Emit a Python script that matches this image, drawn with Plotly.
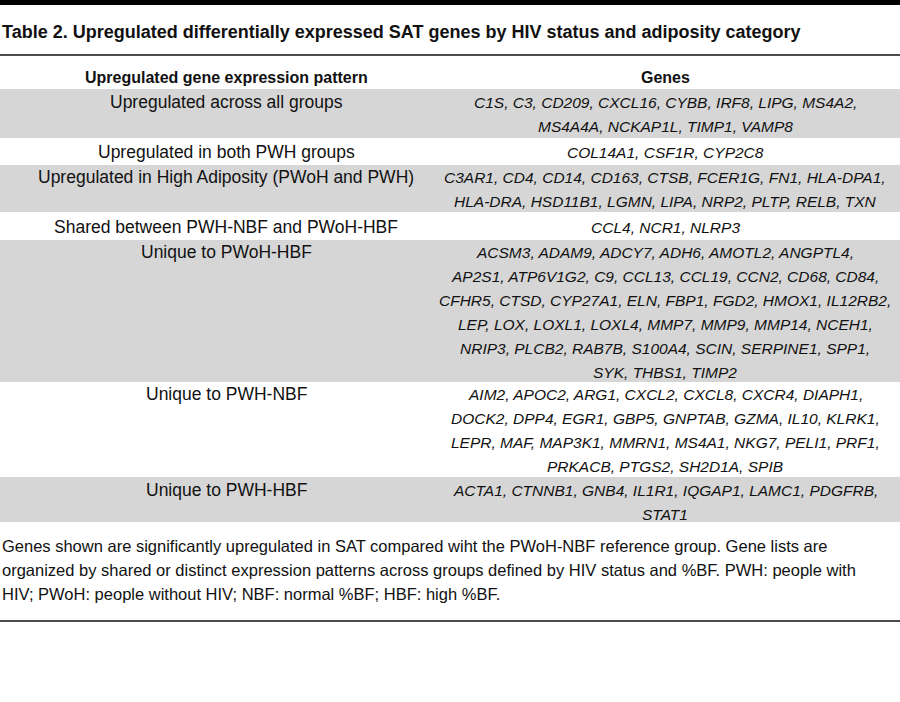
import plotly.graph_objects as go

FONT = "Liberation Sans, Arial"
title = "Table 2. Upregulated differentially expressed SAT genes by HIV status and adiposity category"
headers = ["Upregulated gene expression pattern", "Genes"]
patterns = [
    "Upregulated across all groups",
    "Upregulated in both PWH groups",
    "Upregulated in High Adiposity (PWoH and PWH)",
    "Shared between PWH-NBF and PWoH-HBF",
    "Unique to PWoH-HBF",
    "Unique to PWH-NBF",
    "Unique to PWH-HBF",
]
genes = [
    ["C1S, C3, CD209, CXCL16, CYBB, IRF8, LIPG, MS4A2,", "MS4A4A, NCKAP1L, TIMP1, VAMP8"],
    ["COL14A1, CSF1R, CYP2C8"],
    ["C3AR1, CD4, CD14, CD163, CTSB, FCER1G, FN1, HLA-DPA1,", "HLA-DRA, HSD11B1, LGMN, LIPA, NRP2, PLTP, RELB, TXN"],
    ["CCL4, NCR1, NLRP3"],
    ["ACSM3, ADAM9, ADCY7, ADH6, AMOTL2, ANGPTL4,",
     "AP2S1, ATP6V1G2, C9, CCL13, CCL19, CCN2, CD68, CD84,",
     "CFHR5, CTSD, CYP27A1, ELN, FBP1, FGD2, HMOX1, IL12RB2,",
     "LEP, LOX, LOXL1, LOXL4, MMP7, MMP9, MMP14, NCEH1,",
     "NRIP3, PLCB2, RAB7B, S100A4, SCIN, SERPINE1, SPP1,",
     "SYK, THBS1, TIMP2"],
    ["AIM2, APOC2, ARG1, CXCL2, CXCL8, CXCR4, DIAPH1,",
     "DOCK2, DPP4, EGR1, GBP5, GNPTAB, GZMA, IL10, KLRK1,",
     "LEPR, MAF, MAP3K1, MMRN1, MS4A1, NKG7, PELI1, PRF1,",
     "PRKACB, PTGS2, SH2D1A, SPIB"],
    ["ACTA1, CTNNB1, GNB4, IL1R1, IQGAP1, LAMC1, PDGFRB,", "STAT1"],
]
footnote = [
    "Genes shown are significantly upregulated in SAT compared wiht the PWoH-NBF reference group. Gene lists are",
    "organized by shared or distinct expression patterns across groups defined by HIV status and %BF. PWH: people with",
    "HIV; PWoH: people without HIV; NBF: normal %BF; HBF: high %BF.",
]

# layout (pixel positions of the table rows)
row_top = [89, 140, 165, 214, 240, 384, 477]
row_bot = [138, 163, 212, 238, 382, 474, 522]
text_off = [13, 12, 12, 13, 12, 10, 13]
LH = 24

fig = go.Figure()
shapes, ann = [], []
shapes.append(dict(type="rect", x0=0, x1=900, y0=0, y1=5, fillcolor="black", line_width=0))
ann.append(dict(x=0, y=32, text="<b>" + title + "</b>", xanchor="left", showarrow=False,
                font=dict(size=18, color="#111", family=FONT)))
shapes.append(dict(type="line", x0=0, x1=900, y0=55, y1=55, line=dict(color="#111", width=1.5)))
ann.append(dict(x=226, y=77, text="<b>" + headers[0] + "</b>", showarrow=False, font=dict(size=16, color="#111", family=FONT)))
ann.append(dict(x=665, y=77, text="<b>" + headers[1] + "</b>", showarrow=False, font=dict(size=16, color="#111", family=FONT)))

for i, (p, g) in enumerate(zip(patterns, genes)):
    if i % 2 == 0:
        shapes.append(dict(type="rect", x0=0, x1=900, y0=row_top[i], y1=row_bot[i],
                           fillcolor="#d6d6d6", line_width=0))
    ty = row_top[i] + text_off[i]
    ann.append(dict(x=226, y=ty, text=p, showarrow=False, font=dict(size=17.5, color="#111", family=FONT)))
    for j, line in enumerate(g):
        ann.append(dict(x=665, y=ty + j * LH, text="<i>" + line + "</i>", showarrow=False,
                        font=dict(size=15.5, color="#111", family=FONT)))

for k, line in enumerate(footnote):
    ann.append(dict(x=0, y=546 + k * 24, text=line, xanchor="left", showarrow=False,
                    font=dict(size=16.5, color="#111", family=FONT)))
shapes.append(dict(type="line", x0=0, x1=900, y0=621, y1=621, line=dict(color="#111", width=1.5)))

fig.update_layout(width=900, height=702, margin=dict(l=0, r=0, t=0, b=0),
                  paper_bgcolor="white", plot_bgcolor="white",
                  xaxis=dict(range=[0, 900], visible=False, fixedrange=True),
                  yaxis=dict(range=[702, 0], visible=False, fixedrange=True),
                  shapes=shapes, annotations=ann, showlegend=False)
fig.write_html("out.html", config={"displayModeBar": False},
               post_script="document.body.style.margin='0';document.body.style.overflow='hidden';")
